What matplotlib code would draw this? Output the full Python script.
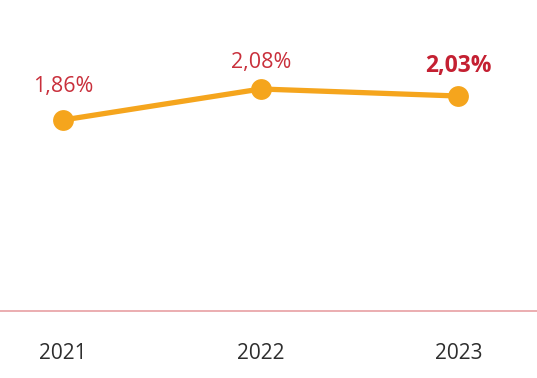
import matplotlib
matplotlib.use("Agg")
import matplotlib.pyplot as plt

years = ["2021", "2022", "2023"]
values = [1.86, 2.08, 2.03]
labels = ["1,86%", "2,08%", "2,03%"]
bold_flags = [False, False, True]

plt.rcParams['font.family'] = ['Open Sans', 'DejaVu Sans']

W, H = 537, 378
fig = plt.figure(figsize=(W / 100, H / 100), dpi=100)
base_px = 311
ax = fig.add_axes([0, (H - base_px) / H, 1, base_px / H])

x = list(range(len(years)))
ax.plot(x, values, color="#F5A51D", lw=3.8, marker="o", markersize=15,
        markeredgewidth=0, solid_capstyle="round", zorder=3)

label_dy = [33, 26, 30]
for xi, v, lab, b, dy in zip(x, values, labels, bold_flags, label_dy):
    ax.annotate(lab, (xi, v), xytext=(0, dy), textcoords="offset pixels",
                ha="center", va="center", fontsize=16.5 if b else 15.5,
                color="#C42032" if b else "#C9303C",
                fontweight="bold" if b else "normal")

ax.set_xlim(-0.32, 2.398)
ax.set_ylim(0.504, 2.7117)
for s in ["top", "left", "right"]:
    ax.spines[s].set_visible(False)
ax.spines["bottom"].set_color("#E8A0A3")
ax.spines["bottom"].set_linewidth(1.2)
ax.set_yticks([])
ax.set_xticks(x)
ax.set_xticklabels(years, fontsize=15, color="#2E2E2E", fontweight="normal")
ax.tick_params(axis="x", length=0, pad=23)
ax.patch.set_alpha(0)

fig.savefig("out.png", dpi=100)
